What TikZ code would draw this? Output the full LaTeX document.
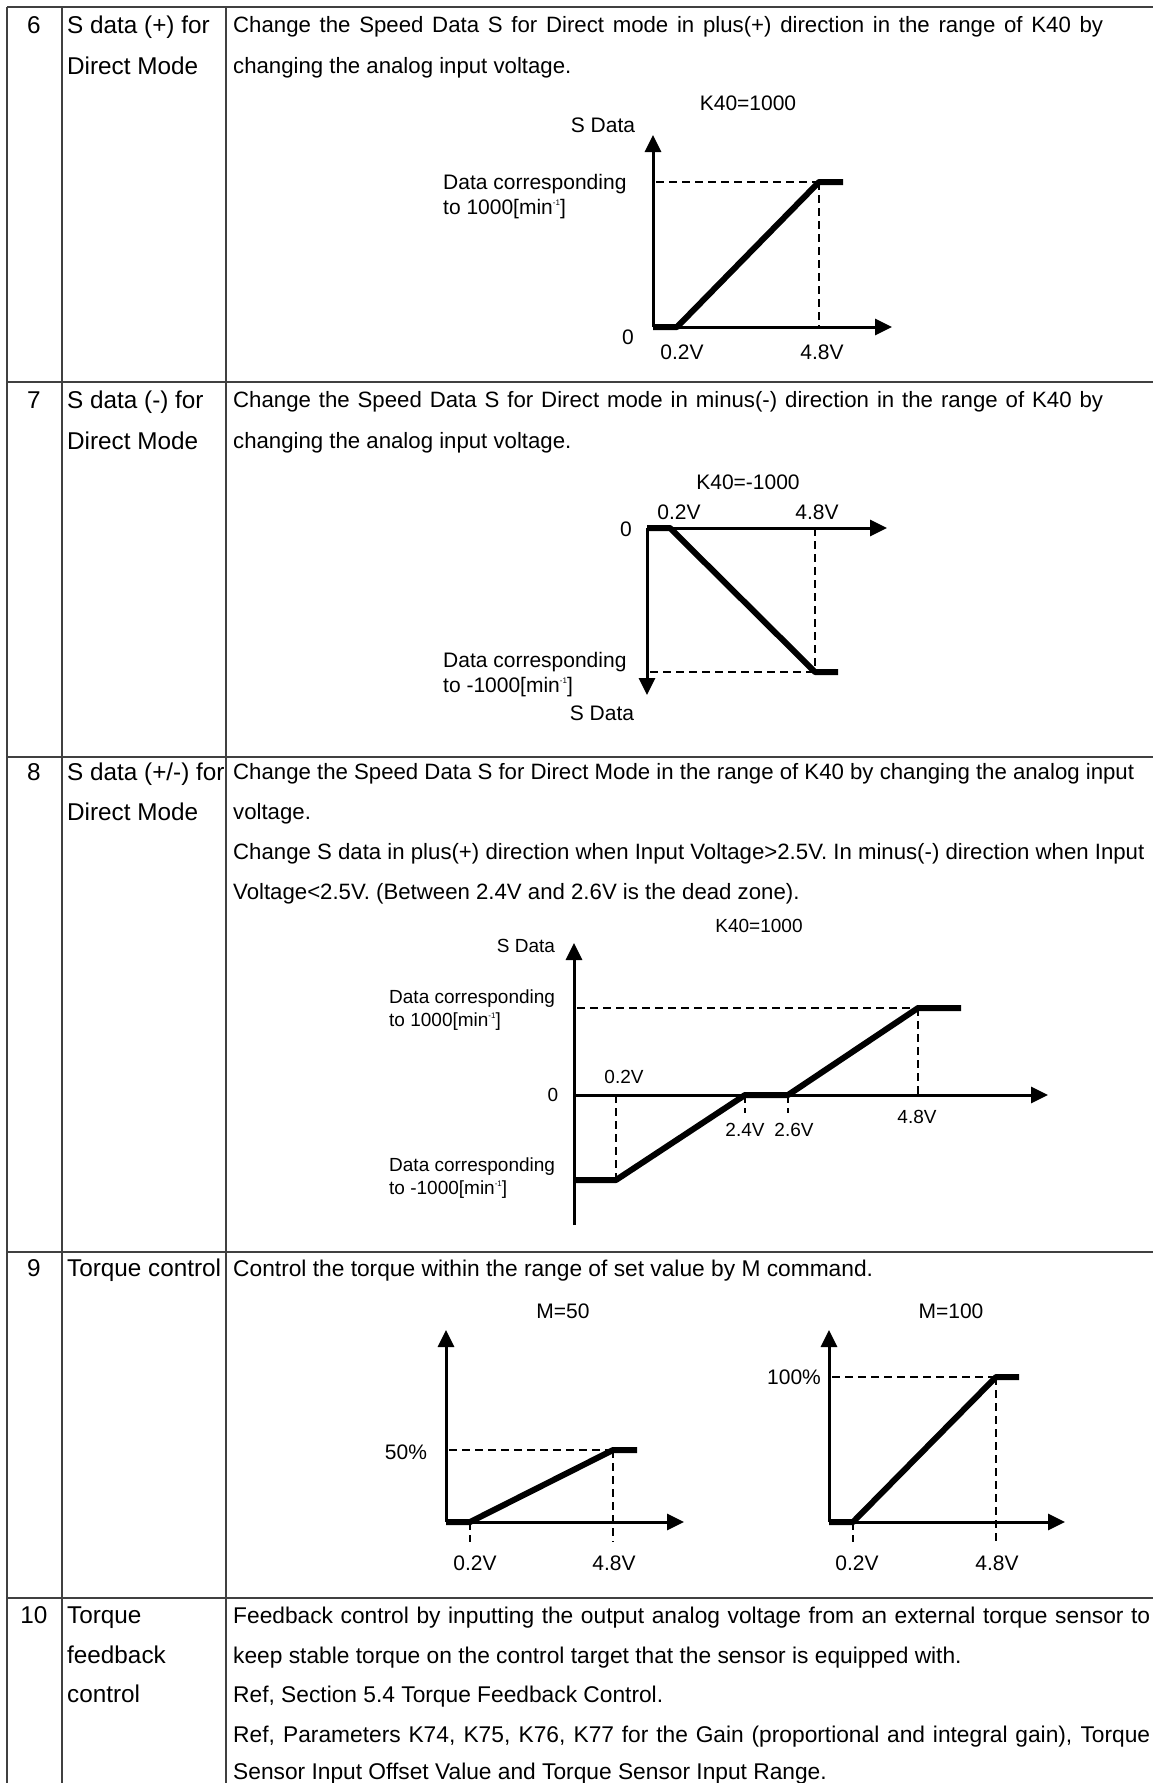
\documentclass[tikz,border=0pt]{standalone}
\usepackage{fontspec}
\setmainfont{Liberation Sans}
\usetikzlibrary{arrows.meta}
\newcommand{\bodyfont}{\fontsize{22.2}{26}\selectfont}
\newcommand{\widefont}{\fontsize{22.75}{26}\selectfont}
\newcommand{\namefont}{\fontsize{24.3}{28}\selectfont}
\newcommand{\plotfont}{\fontsize{21}{24}\selectfont}
\newcommand{\smallplotfont}{\fontsize{19}{22}\selectfont}
\newcommand{\mininv}{min\raisebox{0.8ex}{\fontsize{8}{8}\selectfont -1}}

\begin{document}
\begin{tikzpicture}[x=1pt,y=-1pt,
  tableline/.style={line width=2.2pt,black!75},
  bodytxt/.style={font=\bodyfont,inner sep=0pt,text height=15.9pt,text depth=0pt,anchor=west},
  widetxt/.style={font=\widefont,inner sep=0pt,text height=16.3pt,text depth=0pt,anchor=west},
  itemtxt/.style={font=\namefont,inner sep=0pt,text height=17.4pt,text depth=0pt,anchor=west},
  itemnum/.style={font=\namefont,inner sep=0pt,text height=17.4pt,text depth=0pt},
  lbl/.style={font=\plotfont,inner sep=0pt,text height=15pt,text depth=0pt},
  lblw/.style={lbl,anchor=west},
  slbl/.style={font=\smallplotfont,inner sep=0pt,text height=13.6pt,text depth=0pt},
  slblw/.style={slbl,anchor=west},
  axisline/.style={line width=3pt,-{Triangle[length=17pt,width=16pt]}},
  plotline/.style={line width=6pt,line join=round},
  guideline/.style={line width=2.2pt,dash pattern=on 8pt off 5pt}]

\useasboundingbox (0,0) rectangle (1153,1783);
\fill[white] (0,0) rectangle (1153,1783);

%%%%%%%%% table lines
\draw[tableline] (7,7) to (1153,7);
\draw[tableline] (7,382) to (1153,382);
\draw[tableline] (7,757) to (1153,757);
\draw[tableline] (7,1252) to (1153,1252);
\draw[tableline] (7,1598) to (1153,1598);
\draw[tableline] (7,7) to (7,1783);
\draw[tableline] (62,7) to (62,1783);
\draw[tableline] (226,7) to (226,1783);

%%%%%%%%% row 6
\node[itemnum] (n6) at (34,25) {6};
\node[itemtxt] (c6a) at (67,25) {S data (+) for};
\node[itemtxt] (c6b) at (67,66) {Direct Mode};
\node[bodytxt] (t6a) at (233,25) {\makebox[870pt][s]{Change the Speed Data S for Direct mode in plus(+) direction in the range of K40 by}};
\node[bodytxt] (t6b) at (233,66) {changing the analog input voltage.};

\node[lbl] (k6) at (748,103) {K40=1000};
\node[lbl] (sd6) at (603,125) {S Data};
\node[lblw] (up6a) at (443,182) {Data corresponding};
\node[lblw] (up6b) at (443,207) {to 1000[\mininv]};
\node[lbl] (z6) at (628,337) {0};
\node[lbl] (va6) at (682,352) {0.2V};
\node[lbl] (vb6) at (822,352) {4.8V};

\draw[axisline] (653,327) to (653,135);
\draw[axisline] (653,327) to (892,327);
\draw[guideline] (656,182) to (819,182);
\draw[guideline] (819,182) to (819,327);
\draw[plotline] (653,327) -- (677,327) -- (819,182) -- (843,182);

%%%%%%%%% row 7
\node[itemnum] (n7) at (34,400) {7};
\node[itemtxt] (c7a) at (67,400) {S data (-) for};
\node[itemtxt] (c7b) at (67,441) {Direct Mode};
\node[bodytxt] (t7a) at (233,400) {\makebox[870pt][s]{Change the Speed Data S for Direct mode in minus(-) direction in the range of K40 by}};
\node[bodytxt] (t7b) at (233,441) {changing the analog input voltage.};

\node[lbl] (k7) at (748,482) {K40=-1000};
\node[lbl] (va7) at (679,512) {0.2V};
\node[lbl] (vb7) at (817,512) {4.8V};
\node[lbl] (z7) at (626,529) {0};
\node[lblw] (lo7a) at (443,660) {Data corresponding};
\node[lblw] (lo7b) at (443,685) {to -1000[\mininv]};
\node[lbl] (sd7) at (602,713) {S Data};

\draw[axisline] (647,528) to (887,528);
\draw[axisline] (647,528) to (647,695);
\draw[guideline] (815,528) to (815,672);
\draw[guideline] (650,672) to (815,672);
\draw[plotline] (647,528) -- (670,528) -- (815,672) -- (838,672);

%%%%%%%%% row 8
\node[itemnum] (n8) at (34,772) {8};
\node[itemtxt] (c8a) at (67,772) {S data (+/-) for};
\node[itemtxt] (c8b) at (67,812) {Direct Mode};
\node[bodytxt] (t8a) at (233,772) {Change the Speed Data S for Direct Mode in the range of K40 by changing the analog input};
\node[bodytxt] (t8b) at (233,812) {voltage.};
\node[bodytxt] (t8c) at (233,852) {Change S data in plus(+) direction when Input Voltage>2.5V. In minus(-) direction when Input};
\node[bodytxt] (t8d) at (233,892) {Voltage<2.5V. (Between 2.4V and 2.6V is the dead zone).};

\node[slbl] (k8) at (759,926) {K40=1000};
\node[slbl] (sd8) at (526,946) {S Data};
\node[slblw] (up8a) at (389,997) {Data corresponding};
\node[slblw] (up8b) at (389,1020) {to 1000[\mininv]};
\node[slbl] (va8) at (624,1077) {0.2V};
\node[slbl] (z8) at (553,1095) {0};
\node[slbl] (vb8) at (917,1117) {4.8V};
\node[slbl] (vc8) at (745,1130) {2.4V};
\node[slbl] (vd8) at (794,1130) {2.6V};
\node[slblw] (lo8a) at (389,1165) {Data corresponding};
\node[slblw] (lo8b) at (389,1188) {to -1000[\mininv]};

\draw[line width=3pt] (574,1225) to (574,1095);
\draw[axisline] (574,1095) to (574,943);
\draw[axisline] (574,1095) to (1048,1095);
\draw[guideline] (577,1008) to (918,1008);
\draw[guideline] (918,1008) to (918,1095);
\draw[guideline] (616,1095) to (616,1180);
\draw[guideline] (745,1095) to (745,1113);
\draw[guideline] (788,1095) to (788,1113);
\draw[plotline] (574,1180) -- (616,1180) -- (745,1095) -- (788,1095) -- (918,1008) -- (961,1008);

%%%%%%%%% row 9
\node[itemnum] (n9) at (34,1268) {9};
\node[itemtxt] (c9a) at (67,1268) {Torque control};
\node[widetxt] (t9a) at (233,1268) {Control the torque within the range of set value by M command.};

\node[lbl] (m50) at (563,1311) {M=50};
\node[lbl] (p50) at (406,1452) {50\%};
\node[lbl] (va9) at (475,1563) {0.2V};
\node[lbl] (vb9) at (614,1563) {4.8V};

\draw[axisline] (446,1522) to (446,1330);
\draw[axisline] (446,1522) to (684,1522);
\draw[guideline] (449,1450) to (613,1450);
\draw[guideline] (613,1450) to (613,1542);
\draw[guideline] (470,1522) to (470,1542);
\draw[plotline] (446,1522) -- (470,1522) -- (613,1450) -- (637,1450);

\node[lbl] (m100) at (951,1311) {M=100};
\node[lbl] (p100) at (794,1377) {100\%};
\node[lbl] (vc9) at (857,1563) {0.2V};
\node[lbl] (vd9) at (997,1563) {4.8V};

\draw[axisline] (829,1522) to (829,1330);
\draw[axisline] (829,1522) to (1065,1522);
\draw[guideline] (832,1377) to (996,1377);
\draw[guideline] (996,1377) to (996,1542);
\draw[guideline] (853,1522) to (853,1542);
\draw[plotline] (829,1522) -- (853,1522) -- (996,1377) -- (1019,1377);

%%%%%%%%% row 10
\node[itemnum] (n10) at (34,1615) {10};
\node[itemtxt] (c10a) at (67,1615) {Torque};
\node[itemtxt] (c10b) at (67,1655) {feedback};
\node[itemtxt] (c10c) at (67,1694) {control};
\node[widetxt] (t10a) at (233,1615) {\makebox[917pt][s]{Feedback control by inputting the output analog voltage from an external torque sensor to}};
\node[widetxt] (t10b) at (233,1655) {keep stable torque on the control target that the sensor is equipped with.};
\node[widetxt] (t10c) at (233,1694) {Ref, Section 5.4 Torque Feedback Control.};
\node[widetxt] (t10d) at (233,1734) {\makebox[917pt][s]{Ref, Parameters K74, K75, K76, K77 for the Gain (proportional and integral gain), Torque}};
\node[widetxt] (t10e) at (233,1771) {Sensor Input Offset Value and Torque Sensor Input Range.};

\end{tikzpicture}
\end{document}
